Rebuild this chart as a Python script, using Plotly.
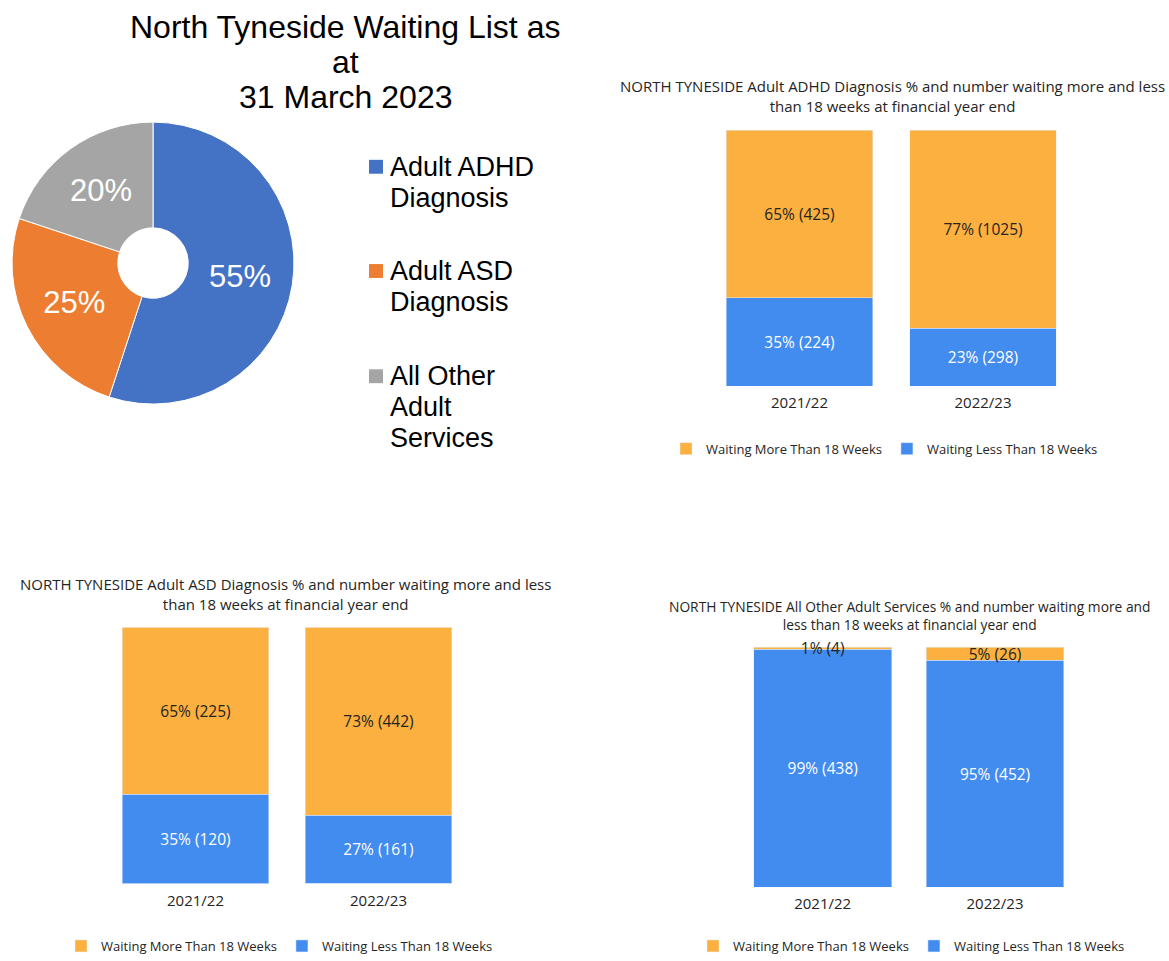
import plotly.graph_objects as go

# ---- data -------------------------------------------------------------
periods = ["2021/22", "2022/23"]

adhd_over = [425, 1025]
adhd_under = [224, 298]
asd_over = [225, 442]
asd_under = [120, 161]
other_over = [4, 26]
other_under = [438, 452]

service_labels = ["Adult ADHD<br>Diagnosis", "Adult ASD<br>Diagnosis",
                  "All Other<br>Adult<br>Services"]
service_colors = ["#4472C4", "#ED7D31", "#A5A5A5"]

over_name = "Waiting More Than 18 Weeks"
under_name = "Waiting Less Than 18 Weeks"
over_color = "#FBB040"
under_color = "#428BEF"

pie_title_lines = ["North Tyneside Waiting List as", "at", "31 March 2023"]

panel_titles = [
    "NORTH TYNESIDE Adult ADHD Diagnosis % and number waiting more and less<br>than 18 weeks at financial year end",
    "NORTH TYNESIDE Adult ASD Diagnosis % and number waiting more and less<br>than 18 weeks at financial year end",
    "NORTH TYNESIDE All Other Adult Services % and number waiting more and<br>less than 18 weeks at financial year end",
]

W, H = 1169, 961


def px(x):
    return x / W


def py(y):
    return 1 - y / H


BAR_FONT = "Open Sans, DejaVu Sans, sans-serif"
ARIAL = "Liberation Sans, Arial, sans-serif"
TEXT_DARK = "#252423"

fig = go.Figure()

# ---- pie: waiting list share by service at 31 March 2023 -------------
latest_totals = [adhd_over[1] + adhd_under[1],
                 asd_over[1] + asd_under[1],
                 other_over[1] + other_under[1]]

fig.add_trace(go.Pie(
    labels=[l.replace("<br>", " ") for l in service_labels],
    values=latest_totals,
    sort=False,
    direction="clockwise",
    rotation=0,
    hole=0.25,
    marker=dict(colors=service_colors, line=dict(color="white", width=1)),
    texttemplate="%{percent:.0%}",
    textposition="inside",
    insidetextorientation="horizontal",
    textfont=dict(family=ARIAL, size=31, color="white"),
    domain=dict(x=[px(11), px(295)], y=[py(407), py(123)]),
    showlegend=False,
))

# ---- stacked bar panels ----------------------------------------------
panels = [
    (adhd_under, adhd_over, "x", "y", "legend"),
    (asd_under, asd_over, "x2", "y2", "legend2"),
    (other_under, other_over, "x3", "y3", "legend3"),
]

for under, over, xa, ya, lg in panels:
    totals = [u + o for u, o in zip(under, over)]
    under_pct = [100 * u / t for u, t in zip(under, totals)]
    over_pct = [100 * o / t for o, t in zip(over, totals)]
    fig.add_trace(go.Bar(
        x=periods, y=under_pct, name=under_name, marker_color=under_color,
        text=[f"{p:.0f}% ({n})" for p, n in zip(under_pct, under)],
        textposition="inside", insidetextanchor="middle", constraintext="none",
        textfont=dict(family=BAR_FONT, size=15.5, color="white"),
        xaxis=xa, yaxis=ya, legend=lg,
    ))
    fig.add_trace(go.Bar(
        x=periods, y=over_pct, name=over_name, marker_color=over_color,
        text=[f"{p:.0f}% ({n})" for p, n in zip(over_pct, over)],
        textposition="inside", insidetextanchor="middle", constraintext="none",
        textfont=dict(family=BAR_FONT, size=15.5, color=TEXT_DARK),
        xaxis=xa, yaxis=ya, legend=lg, cliponaxis=False,
    ))

x_domains = [[px(707.75), px(1074.75)], [px(104), px(470)], [px(736.5), px(1081.2)]]
y_domains = [[py(389), py(131)], [py(890), py(632)], [py(894), py(652)]]

axis_common_x = dict(type="category", showline=False, showgrid=False, zeroline=False,
                     ticks="", tickfont=dict(family=BAR_FONT, size=15, color=TEXT_DARK),
                     ticklabelstandoff=6, fixedrange=True)
axis_common_y = dict(range=[0, 100], visible=False, fixedrange=True)

layout_axes = {}
for i, (xd, yd) in enumerate(zip(x_domains, y_domains), start=1):
    sfx = "" if i == 1 else str(i)
    layout_axes[f"xaxis{sfx}"] = dict(axis_common_x, domain=xd, anchor=f"y{sfx}")
    layout_axes[f"yaxis{sfx}"] = dict(axis_common_y, domain=yd, anchor=f"x{sfx}")

legend_common = dict(orientation="h", traceorder="reversed", xanchor="left", yanchor="middle",
                     font=dict(family=BAR_FONT, size=13, color=TEXT_DARK),
                     bgcolor="rgba(0,0,0,0)", itemclick=False, itemdoubleclick=False)

# ---- text: titles and pie key ----------------------------------------
annotations = []
for i, line in enumerate(pie_title_lines):
    annotations.append(dict(text=line, x=px(345), y=py(27 + i * 35.5), xref="paper", yref="paper",
                            showarrow=False, xanchor="center", yanchor="middle",
                            font=dict(family=ARIAL, size=32, color="black")))

title_pos = [(892, 97, 15), (285.5, 598.5, 15), (909, 620.5, 13.8)]
for t, (tx, ty, fs) in zip(panel_titles, title_pos):
    annotations.append(dict(text=t, x=px(tx), y=py(ty), xref="paper", yref="paper",
                            showarrow=False, xanchor="center", yanchor="middle",
                            font=dict(family=BAR_FONT, size=fs, color=TEXT_DARK)))

shapes = []
key_tops = [168, 273, 379]
for label, color, y0 in zip(service_labels, service_colors, key_tops):
    shapes.append(dict(type="rect", xref="paper", yref="paper",
                       x0=px(369), x1=px(383), y0=py(y0 - 7), y1=py(y0 + 7),
                       fillcolor=color, line_width=0))
    for j, part in enumerate(label.split("<br>")):
        annotations.append(dict(text=part, x=px(388), y=py(y0 + j * 31), xref="paper", yref="paper",
                                showarrow=False, xanchor="left", yanchor="middle",
                                font=dict(family=ARIAL, size=27, color="black")))

fig.update_layout(
    width=W, height=H,
    margin=dict(l=0, r=0, t=0, b=0),
    paper_bgcolor="white", plot_bgcolor="white",
    barmode="stack", bargap=0.2,
    showlegend=True,
    legend=dict(legend_common, x=px(666), y=py(452)),
    legend2=dict(legend_common, x=px(61), y=py(953)),
    legend3=dict(legend_common, x=px(693), y=py(953)),
    annotations=annotations,
    shapes=shapes,
    **layout_axes,
)

fig.write_html("out.html")
